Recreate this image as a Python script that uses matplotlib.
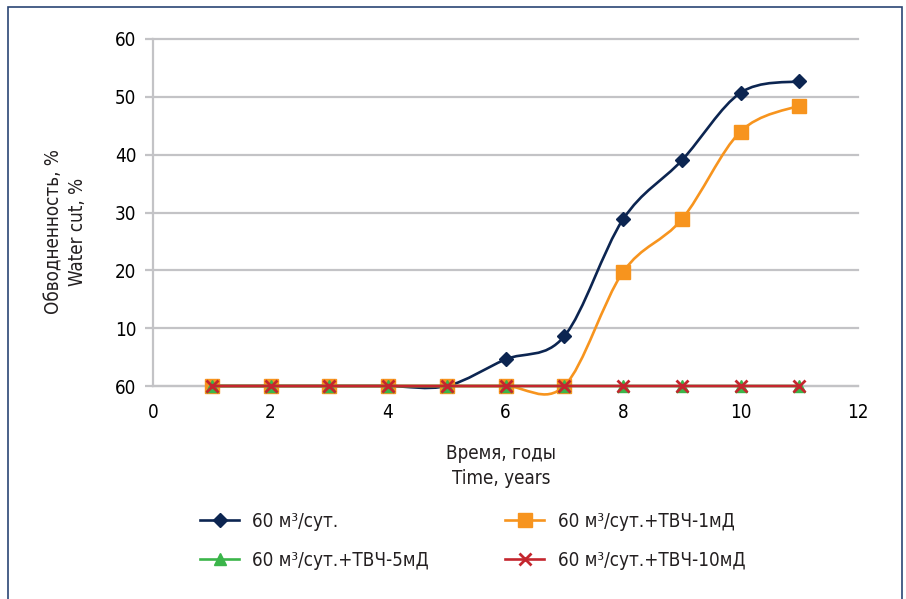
import matplotlib
matplotlib.use('Agg')
import matplotlib.pyplot as plt
from matplotlib.path import Path
from matplotlib.patches import PathPatch, Rectangle
from matplotlib.lines import Line2D

# data
years = [1, 2, 3, 4, 5, 6, 7, 8, 9, 10, 11]
base_60 = [0, 0, 0, 0, 0, 4.6, 8.6, 28.8, 39.0, 50.7, 52.7]
tvch_1md = [0, 0, 0, 0, 0, 0, 0, 19.7, 28.8, 44.0, 48.5]
tvch_5md = [0, 0, 0, 0, 0, 0, 0, 0, 0, 0, 0]
tvch_10md = [0, 0, 0, 0, 0, 0, 0, 0, 0, 0, 0]
labels = ['60 м³/сут.', '60 м³/сут.+ТВЧ-1мД',
          '60 м³/сут.+ТВЧ-5мД', '60 м³/сут.+ТВЧ-10мД']
y_ticks = [0, 10, 20, 30, 40, 50, 60]
y_ticklabels = ['60', '10', '20', '30', '40', '50', '60']
x_ticks = [0, 2, 4, 6, 8, 10, 12]

navy = '#0c2551'
orange = '#f7941e'
green = '#3bb54a'
red = '#c4262e'
grid = '#c3c3c6'

plt.rcParams['font.family'] = ['DejaVu Sans']
plt.rcParams['font.stretch'] = 'condensed'
plt.rcParams['text.color'] = '#231f20'
fs = 13.5


def smooth_path(xs, ys):
    # excel-style smoothed line: cubic bezier through the points
    pts = list(zip(xs, ys))
    verts = [pts[0]]
    codes = [Path.MOVETO]
    n = len(pts)
    for i in range(n - 1):
        p0 = pts[i - 1] if i > 0 else pts[i]
        p1 = pts[i]
        p2 = pts[i + 1]
        p3 = pts[i + 2] if i + 2 < n else pts[i + 1]
        c1 = (p1[0] + (p2[0] - p0[0]) / 6, p1[1] + (p2[1] - p0[1]) / 6)
        c2 = (p2[0] - (p3[0] - p1[0]) / 6, p2[1] - (p3[1] - p1[1]) / 6)
        verts += [c1, c2, p2]
        codes += [Path.CURVE4] * 3
    return Path(verts, codes)


fig = plt.figure(figsize=(9.06, 5.99), dpi=100)
ax = fig.add_axes([153 / 906, 1 - 386 / 599, 705 / 906, 347 / 599])

series = [
    (base_60, navy, 'D', 7.5, 1.0),
    (tvch_1md, orange, 's', 10, 1.0),
    (tvch_5md, green, '^', 8, 1.0),
    (tvch_10md, red, 'x', 8, 2.0),
]
handles = []
for i, (vals, col, mk, ms, mew) in enumerate(series):
    ax.add_patch(PathPatch(smooth_path(years, vals), fill=False,
                           edgecolor=col, lw=1.9, zorder=3 + i,
                           clip_on=False))
    ax.plot(years, vals, ls='none', marker=mk, ms=ms, color=col,
            mec=col, mew=mew, zorder=3 + i, clip_on=False)
    handles.append(Line2D([], [], color=col, lw=1.9, marker=mk, ms=ms,
                          mec=col, mew=mew))

ax.set_xlim(0, 12)
ax.set_ylim(0, 60)
ax.set_xticks(x_ticks)
ax.set_yticks(y_ticks)
ax.set_yticklabels(y_ticklabels)
ax.yaxis.grid(True, color=grid, lw=1.6)
for gl in ax.get_ygridlines():
    gl.set_clip_on(False)
ax.set_axisbelow(True)
for s in ['top', 'right']:
    ax.spines[s].set_visible(False)
for s in ['left', 'bottom']:
    ax.spines[s].set_color(grid)
    ax.spines[s].set_linewidth(1.6)
ax.tick_params(axis='y', length=6, width=1.6, color=grid, labelsize=fs, pad=6)
ax.tick_params(axis='x', length=0, labelsize=fs, pad=12)
ax.set_xticks([0, 12], minor=True)
ax.tick_params(axis='x', which='minor', length=6, width=1.6, color=grid,
               direction='in')

fig.text(66 / 906, 1 - 232 / 599, 'Обводненность, %\nWater cut, %',
         rotation=90, ha='center', va='center', multialignment='center',
         fontsize=fs, linespacing=1.3)
fig.text(501 / 906, 1 - 466 / 599, 'Время, годы\nTime, years',
         ha='center', va='center', multialignment='center',
         fontsize=fs, linespacing=1.35)

leg_kw = dict(frameon=False, fontsize=fs, handlelength=2.1,
              handletextpad=0.7, labelspacing=1.05, borderpad=0,
              borderaxespad=0, loc='upper left')
fig.legend([handles[0], handles[2]], [labels[0], labels[2]],
           bbox_to_anchor=(200 / 906, 1 - 512 / 599), **leg_kw)
fig.legend([handles[1], handles[3]], [labels[1], labels[3]],
           bbox_to_anchor=(505 / 906, 1 - 512 / 599), **leg_kw)

fig.patches.append(Rectangle((8 / 906, -0.05), 894 / 906, 1.05 - 7 / 599,
                             transform=fig.transFigure, fill=False,
                             edgecolor='#2b4674', lw=1.2))

fig.savefig('out.png', dpi=100)
